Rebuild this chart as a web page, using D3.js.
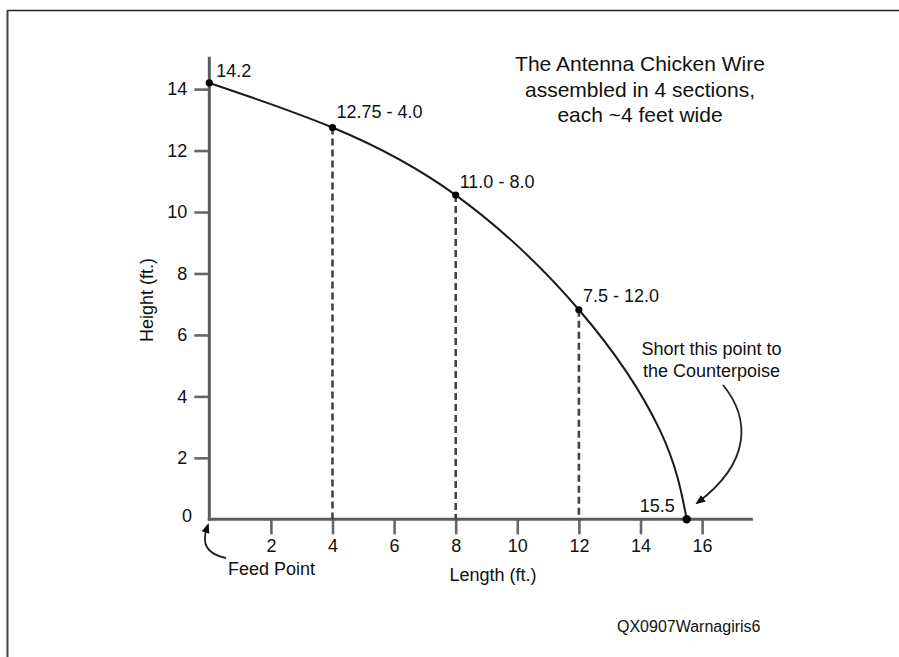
<!DOCTYPE html>
<html>
<head>
<meta charset="utf-8">
<script src="https://cdn.jsdelivr.net/npm/d3@7"></script>
<style>
  html, body { margin: 0; padding: 0; background: #fff; }
  svg { display: block; }
  text { font-family: "Liberation Sans", Arial, Helvetica, sans-serif; fill: #111; }
</style>
</head>
<body>
<svg id="chart" width="899" height="657"></svg>
<script>
// ---- data ----
const lengths = [0, 4, 8, 12, 15.5];               // ft along the ground
const heights = [14.2, 12.75, 10.55, 6.82, 0];     // ft (as plotted)
const pointLabels = ["14.2", "12.75 - 4.0", "11.0 - 8.0", "7.5 - 12.0", "15.5"];
const sectionLengths = [4, 8, 12];                  // dashed section lines
// wire profile
const wireLength = [0, 4, 8, 12, 14.63, 15.5];
const wireHeight = [14.2, 12.75, 10.55, 6.82, 2.9, 0];
const xTicks = [2, 4, 6, 8, 10, 12, 14, 16];
const yTicks = [2, 4, 6, 8, 10, 12, 14];
const titleLines = ["The Antenna Chicken Wire", "assembled in 4 sections,", "each ~4 feet wide"];
const noteLines = ["Short this point to", "the Counterpoise"];

const svg = d3.select("#chart");

// frame (top and left rules)
svg.append("line").attr("x1", 7.5).attr("x2", 899).attr("y1", 10.5).attr("y2", 10.5)
  .attr("stroke", "#222").attr("stroke-width", 1.6);
svg.append("line").attr("x1", 7.5).attr("x2", 7.5).attr("y1", 10).attr("y2", 657)
  .attr("stroke", "#444").attr("stroke-width", 2);

const x = d3.scaleLinear().domain([0, 16]).range([209.3, 702.1]);
const y = d3.scaleLinear().domain([0, 14]).range([519.3, 89.1]);

// axes
const axisColor = "#5c5c5c";
const gx = svg.append("g").attr("transform", `translate(0,${y(0)})`)
  .call(d3.axisBottom(x).tickValues(xTicks).tickSize(15).tickPadding(5).tickFormat(d3.format("d")));
const gy = svg.append("g").attr("transform", `translate(${x(0)},0)`)
  .call(d3.axisLeft(y).tickValues(yTicks).tickSize(15).tickPadding(7).tickFormat(d3.format("d")));
[gx, gy].forEach(g => {
  g.select(".domain").remove();
  g.selectAll(".tick line").attr("stroke", "#666").attr("stroke-width", 2.6);
  g.selectAll(".tick text").style("font-size", "18px")
    .style("font-family", '"Liberation Sans", Arial, sans-serif').attr("fill", "#111");
});
svg.append("line").attr("x1", x(0) - 1.5).attr("x2", x(17.65)).attr("y1", y(0)).attr("y2", y(0))
  .attr("stroke", axisColor).attr("stroke-width", 3);
svg.append("line").attr("x1", x(0)).attr("x2", x(0)).attr("y1", y(0) + 1.5).attr("y2", y(15.05))
  .attr("stroke", axisColor).attr("stroke-width", 3);
svg.append("text").attr("x", 192).attr("y", 522).attr("text-anchor", "end")
  .style("font-size", "18px").text("0");

// axis titles
svg.append("text").attr("transform", `translate(153,300) rotate(-90)`).attr("text-anchor", "middle")
  .style("font-size", "18px").text("Height (ft.)");
svg.append("text").attr("x", 493).attr("y", 581).attr("text-anchor", "middle")
  .style("font-size", "18px").text("Length (ft.)");

// dashed section lines
sectionLengths.forEach(L => {
  const i = lengths.indexOf(L);
  svg.append("line").attr("x1", x(L)).attr("x2", x(L)).attr("y1", y(heights[i])).attr("y2", y(0))
    .attr("stroke", "#444").attr("stroke-width", 2.6).attr("stroke-dasharray", "7,4");
});

// wire curve
const wire = wireLength.map((L, i) => [L, wireHeight[i]]);
svg.append("path").datum(wire)
  .attr("d", d3.line().x(d => x(d[0])).y(d => y(d[1])).curve(d3.curveNatural))
  .attr("fill", "none").attr("stroke", "#1a1a1a").attr("stroke-width", 2);

// points
lengths.forEach((L, i) => {
  svg.append("circle").attr("cx", x(L)).attr("cy", y(heights[i])).attr("r", i === 4 ? 4.2 : 3.6)
    .attr("fill", "#000");
});
const labelOffsets = [[7, -6, "start"], [4, -10, "start"], [4, -7, "start"], [4, -8, "start"], [-12, -7, "end"]];
pointLabels.forEach((t, i) => {
  const o = labelOffsets[i];
  svg.append("text").attr("x", x(lengths[i]) + o[0]).attr("y", y(heights[i]) + o[1])
    .attr("text-anchor", o[2]).style("font-size", "18px").text(t);
});

// title
titleLines.forEach((t, i) => {
  svg.append("text").attr("x", 640).attr("y", 71 + i * 25.5).attr("text-anchor", "middle")
    .style("font-size", "21px").text(t);
});

// note + arrow
noteLines.forEach((t, i) => {
  svg.append("text").attr("x", 711.5).attr("y", 355 + i * 21.5).attr("text-anchor", "middle")
    .style("font-size", "18px").text(t);
});
const defs = svg.append("defs");
defs.append("marker").attr("id", "ah").attr("viewBox", "0 0 10 10").attr("refX", 8).attr("refY", 5)
  .attr("markerWidth", 10).attr("markerHeight", 10).attr("markerUnits", "userSpaceOnUse")
  .attr("orient", "auto")
  .append("path").attr("d", "M0,1 L10,5 L0,9 Z").attr("fill", "#111");
svg.append("path").attr("d", "M723,385 C750,418 752,462 697,503")
  .attr("fill", "none").attr("stroke", "#222").attr("stroke-width", 1.8).attr("marker-end", "url(#ah)");

// feed point label + arrow
svg.append("text").attr("x", 228).attr("y", 575).style("font-size", "18px").text("Feed Point");
svg.append("path").attr("d", "M226,558 C212,555 204,548 205,537 S207,528 208,525")
  .attr("fill", "none").attr("stroke", "#222").attr("stroke-width", 1.8).attr("marker-end", "url(#ah)");

// credit
svg.append("text").attr("x", 617).attr("y", 632).style("font-size", "16px").text("QX0907Warnagiris6");
</script>
</body>
</html>
